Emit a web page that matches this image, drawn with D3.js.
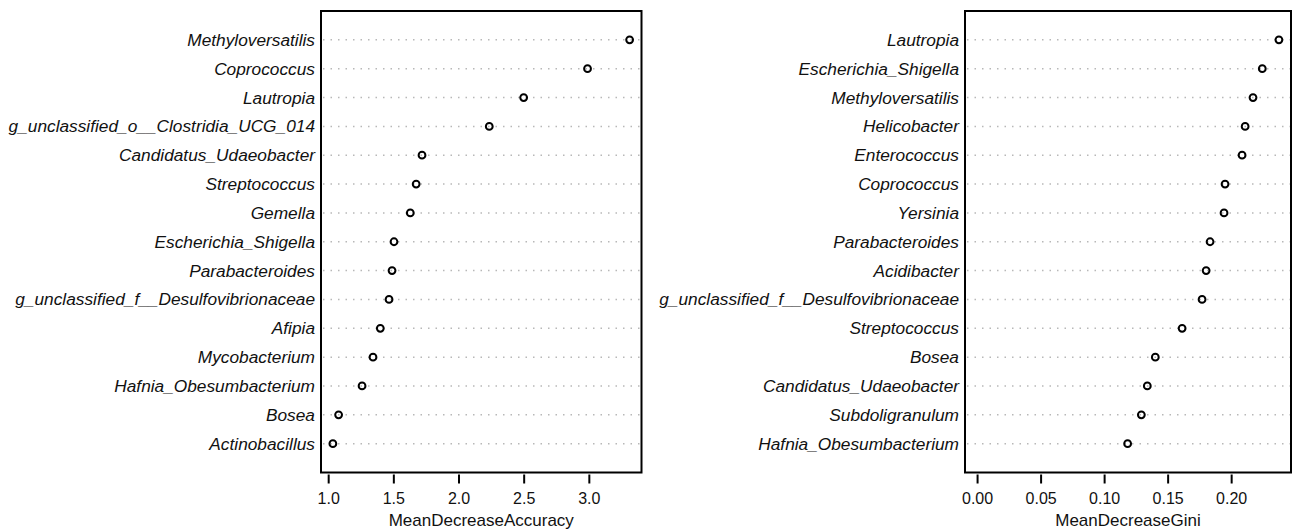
<!DOCTYPE html>
<html>
<head>
<meta charset="utf-8">
<script src="https://cdn.jsdelivr.net/npm/d3@7"></script>
<style>
  body { margin: 0; background: #fff; }
  svg text { font-family: "Liberation Sans", Arial, sans-serif; }
</style>
</head>
<body>
<div id="chart"></div>
<script>
// left panel, top to bottom
const accGenera = ['Methyloversatilis', 'Coprococcus', 'Lautropia', 'g_unclassified_o__Clostridia_UCG_014',
    'Candidatus_Udaeobacter', 'Streptococcus', 'Gemella', 'Escherichia_Shigella', 'Parabacteroides',
    'g_unclassified_f__Desulfovibrionaceae', 'Afipia', 'Mycobacterium', 'Hafnia_Obesumbacterium', 'Bosea', 'Actinobacillus'];
const accValues = [3.313, 2.99, 2.50, 2.236, 1.72, 1.675, 1.63, 1.505, 1.49, 1.467, 1.40, 1.344, 1.26, 1.08, 1.036];
const accTicks = [1.0, 1.5, 2.0, 2.5, 3.0];

// right panel, top to bottom
const giniGenera = ['Lautropia', 'Escherichia_Shigella', 'Methyloversatilis', 'Helicobacter', 'Enterococcus',
    'Coprococcus', 'Yersinia', 'Parabacteroides', 'Acidibacter', 'g_unclassified_f__Desulfovibrionaceae',
    'Streptococcus', 'Bosea', 'Candidatus_Udaeobacter', 'Subdoligranulum', 'Hafnia_Obesumbacterium'];
const giniValues = [0.2376, 0.2245, 0.2172, 0.211, 0.2086, 0.1952, 0.1944, 0.1834, 0.1803, 0.1771,
    0.1614, 0.1403, 0.134, 0.1293, 0.1185];
const giniTicks = [0.00, 0.05, 0.10, 0.15, 0.20];

const width = 1292;
const height = 530;

const svg = d3.select('#chart')
    .append('svg')
    .attr('width', width)
    .attr('height', height);

function dotPanel(genera, values, ticks, opts) {
    const { left, right, top, bottom, title, fromZero, fmt } = opts;

    const lo = fromZero ? 0 : d3.min(values);
    const hi = d3.max(values);
    const pad = (hi - lo) * 0.04;
    const x = d3.scaleLinear().domain([lo - pad, hi + pad]).range([left, right]);

    const n = genera.length;
    // row 1 at bottom, like R's dotchart
    const y = d3.scaleLinear().domain([0, n + 1]).range([bottom, top]);
    const rowY = (i) => y(n - i);

    const g = svg.append('g');

    // dotted guide lines
    g.selectAll('line.guide')
        .data(genera)
        .enter()
        .append('line')
        .attr('class', 'guide')
        .attr('x1', left + 2)
        .attr('x2', right - 1)
        .attr('y1', (d, i) => rowY(i))
        .attr('y2', (d, i) => rowY(i))
        .attr('stroke', '#b8b8b8')
        .attr('stroke-width', 1.5)
        .attr('stroke-dasharray', '1.5,6');

    // labels
    g.selectAll('text.lab')
        .data(genera)
        .enter()
        .append('text')
        .attr('class', 'lab')
        .attr('x', left - 6)
        .attr('y', (d, i) => rowY(i))
        .attr('dy', '0.35em')
        .attr('text-anchor', 'end')
        .attr('font-size', '17.3px')
        .attr('font-style', 'italic')
        .attr('fill', '#111')
        .text(d => d);

    // points
    g.selectAll('circle')
        .data(values)
        .enter()
        .append('circle')
        .attr('cx', d => x(d))
        .attr('cy', (d, i) => rowY(i))
        .attr('r', 3.4)
        .attr('fill', 'none')
        .attr('stroke', '#000')
        .attr('stroke-width', 2);

    // box
    g.append('rect')
        .attr('x', left)
        .attr('y', top)
        .attr('width', right - left)
        .attr('height', bottom - top)
        .attr('fill', 'none')
        .attr('stroke', '#000')
        .attr('stroke-width', 2);

    // x axis (ticks only, no baseline, as in R with a box)
    const axis = g.append('g')
        .attr('transform', `translate(0,${bottom + 2})`)
        .call(d3.axisBottom(x).tickValues(ticks).tickSize(9).tickPadding(9).tickFormat(fmt));
    axis.select('.domain').attr('stroke', 'none');
    axis.selectAll('.tick line').attr('stroke', '#000').attr('stroke-width', 2);
    axis.selectAll('.tick text')
        .attr('font-size', '16px')
        .attr('font-family', '"Liberation Sans", Arial, sans-serif')
        .attr('fill', '#111');

    g.append('text')
        .attr('x', (left + right) / 2)
        .attr('y', bottom + 53)
        .attr('text-anchor', 'middle')
        .attr('font-size', '17px')
        .attr('fill', '#111')
        .text(title);
}

dotPanel(accGenera, accValues, accTicks, {
    left: 321, right: 641.5, top: 11, bottom: 472.5,
    title: 'MeanDecreaseAccuracy', fromZero: false, fmt: d3.format('.1f')
});

dotPanel(giniGenera, giniValues, giniTicks, {
    left: 965, right: 1291, top: 11, bottom: 472.5,
    title: 'MeanDecreaseGini', fromZero: true, fmt: d3.format('.2f')
});
</script>
</body>
</html>
